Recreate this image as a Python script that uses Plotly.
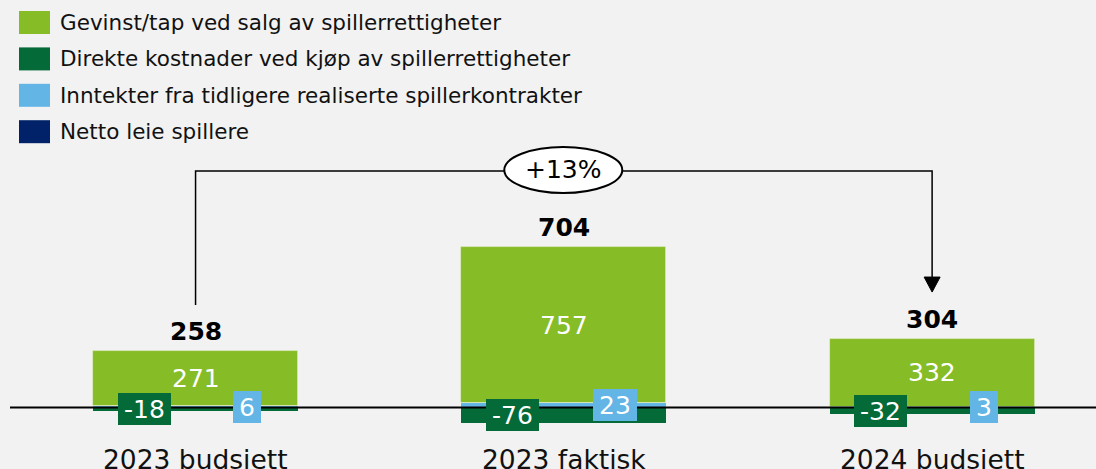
import plotly.graph_objects as go

# ---------------- data ----------------
categories = ["2023 budsjett", "2023 faktisk", "2024 budsjett"]
series_names = [
    "Gevinst/tap ved salg av spillerrettigheter",
    "Direkte kostnader ved kjøp av spillerrettigheter",
    "Inntekter fra tidligere realiserte spillerkontrakter",
    "Netto leie spillere",
]
gevinst = [271, 757, 332]
direkte = [-18, -76, -32]
inntekter = [6, 23, 3]
netto_leie = [0, 0, 0]
totals = [258, 704, 304]
change_label = "+13%"

# ---------------- style ----------------
FONT = "DejaVu Sans"
BG = "#f2f2f2"
C_GREEN = "#86bc25"
C_DGREEN = "#046a38"
C_LBLUE = "#62b5e5"
C_NAVY = "#012169"
series_colors = [C_GREEN, C_DGREEN, C_LBLUE, C_NAVY]
W, H = 1096, 469
BAR_W = 0.557
X_RANGE = [-0.531, 2.445]
Y_RANGE = [-299, 1983]

xs = list(range(len(categories)))

# stacking order (first trace sits nearest zero)
stack = [
    (series_names[2], inntekter, C_LBLUE, "right"),
    (series_names[0], gevinst, C_GREEN, "center"),
    (series_names[1], direkte, C_DGREEN, "left"),
    (series_names[3], netto_leie, C_NAVY, None),
]

fig = go.Figure()
for name, vals, col, where in stack:
    edge = dict(width=0.8, color="rgba(255,255,255,0.5)") if where == "center" else dict(width=0)
    fig.add_trace(go.Bar(
        x=xs, y=vals, name=name, width=BAR_W,
        marker=dict(color=col, line=edge),
        showlegend=False, hoverinfo="skip",
    ))

annotations = []
shapes = []

# segment labels
pos_base = [0.0] * len(xs)
neg_base = [0.0] * len(xs)
offsets = {"left": -0.139, "right": 0.14, "center": 0.0}
for name, vals, col, where in stack:
    for i, v in enumerate(vals):
        if v >= 0:
            mid = pos_base[i] + v / 2
            pos_base[i] += v
        else:
            mid = neg_base[i] + v / 2
            neg_base[i] += v
        if where is None:
            continue
        txt = str(v)
        if where == "center":
            annotations.append(dict(
                x=i, y=mid, xref="x", yref="y", text=txt, showarrow=False,
                font=dict(family=FONT, size=25, color="white"),
                xanchor="center", yanchor="middle",
            ))
        else:
            digits = sum(ch.isdigit() for ch in txt)
            tw = 15.9 * digits + (9 if txt.startswith("-") else 0)
            annotations.append(dict(
                x=i + offsets[where], y=mid, xref="x", yref="y", text=txt,
                showarrow=False, font=dict(family=FONT, size=25, color="white"),
                xanchor="center", yanchor="middle", bgcolor=col,
                borderpad=0, borderwidth=0, width=tw + 12, height=32,
            ))

# totals
for i in xs:
    annotations.append(dict(
        x=i, y=pos_base[i], xref="x", yref="y", text=f"<b>{totals[i]}</b>",
        showarrow=False, font=dict(family=FONT, size=25, color="black"),
        xanchor="center", yanchor="bottom", yshift=3,
    ))

# category labels
for i, c in enumerate(categories):
    annotations.append(dict(
        x=i, y=1 - 459 / H, xref="x", yref="paper", text=c, showarrow=False,
        font=dict(family=FONT, size=26.5, color="#111111"),
        xanchor="center", yanchor="middle",
    ))

# zero line
shapes.append(dict(type="line", xref="paper", yref="y", x0=10 / W, x1=1,
                   y0=0, y1=0, line=dict(color="black", width=2), layer="above"))

# bracket with arrow
BR_TOP = 1151
BR_LEFT_BOTTOM = 499
ARROW_TIP = 562
shapes.append(dict(
    type="path", xref="x", yref="y",
    path=f"M 0,{BR_LEFT_BOTTOM} L 0,{BR_TOP} L 2,{BR_TOP} L 2,{ARROW_TIP + 60}",
    line=dict(color="black", width=1.5), layer="above",
))
shapes.append(dict(
    type="path", xref="x", yref="y", xsizemode="pixel", ysizemode="pixel",
    xanchor=2, yanchor=ARROW_TIP,
    path="M 0,0 L -8,15 L 8,15 Z",
    fillcolor="black", line=dict(color="black", width=1), layer="above",
))
# ellipse with change label
shapes.append(dict(
    type="circle", xref="x", yref="y", xsizemode="pixel", ysizemode="pixel",
    xanchor=0.9985, yanchor=BR_TOP + 5, x0=-59, x1=59, y0=-23, y1=23,
    fillcolor="white", line=dict(color="black", width=2), layer="above",
))
annotations.append(dict(
    x=0.9985, y=BR_TOP + 5, xref="x", yref="y", text=change_label, showarrow=False,
    font=dict(family=FONT, size=25, color="black"), xanchor="center", yanchor="middle",
))

# legend (manual)
legend_order = [0, 1, 2, 3]
for k, idx in enumerate(legend_order):
    cy = 22.5 + 36.4 * k
    shapes.append(dict(
        type="rect", xref="paper", yref="paper",
        x0=19 / W, x1=50 / W, y0=1 - (cy - 11.5) / H, y1=1 - (cy + 11.5) / H,
        fillcolor=series_colors[idx], line=dict(width=0),
    ))
    annotations.append(dict(
        x=58 / W, y=1 - cy / H, xref="paper", yref="paper", text=series_names[idx],
        showarrow=False, font=dict(family=FONT, size=21.5, color="#111111"),
        xanchor="left", yanchor="middle",
    ))

fig.update_layout(
    width=W, height=H,
    margin=dict(l=0, r=0, t=0, b=0),
    paper_bgcolor=BG, plot_bgcolor=BG,
    barmode="relative", bargap=0,
    xaxis=dict(range=X_RANGE, visible=False, fixedrange=True),
    yaxis=dict(range=Y_RANGE, visible=False, fixedrange=True),
    annotations=annotations, shapes=shapes,
    showlegend=False,
)

fig.write_html(
    "out.html",
    config={"displayModeBar": False},
    post_script="document.body.style.margin='0';document.body.style.background='#f2f2f2';document.body.style.overflow='hidden';",
)
